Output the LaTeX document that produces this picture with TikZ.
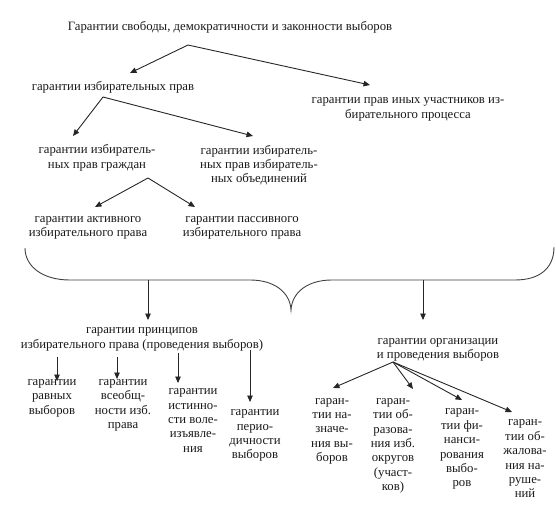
\documentclass[tikz,border=0pt]{standalone}
\usepackage{fontspec}
\setmainfont{Liberation Serif}
\usetikzlibrary{arrows.meta}
\tikzset{
  lbl/.style={inner sep=0pt, align=center, text=black!90,
    font=\fontsize{12.8}{14.4}\selectfont,
    execute at begin node=\strut, execute at end node=\strut},
  arr/.style={draw=black!85, line width=0.9pt, -{Triangle[length=6.5pt,width=5.5pt]}},
  brace/.style={draw=black!75, line width=0.9pt}
}
\begin{document}
\begin{tikzpicture}[x=1bp,y=-1bp]
\useasboundingbox (0,0) rectangle (556,510);
% nodes
\node[lbl] (title) at (230,28) {Гарантии свободы, демократичности и законности выборов};
\node[lbl] (ia) at (113,88) {гарантии избирательных прав};
\node[lbl] (io) at (408,110) {гарантии прав иных участников из-\\бирательного процесса};
\node[lbl] (ig) at (97,158.5) {гарантии избиратель-\\ных прав граждан};
\node[lbl] (iob) at (259,166) {гарантии избиратель-\\ных прав избиратель-\\ных объединений};
\node[lbl] (act) at (88,228.5) {гарантии активного\\избирательного права};
\node[lbl] (pas) at (242,228.5) {гарантии пассивного\\избирательного права};
\node[lbl] (pr) at (142,340) {гарантии принципов\\избирательного права (проведения выборов)};
\node[lbl] (org) at (438,350.5) {гарантии организации\\и проведения выборов};
\node[lbl] (b1) at (52,399) {гарантии\\равных\\выборов};
\node[lbl] (b2) at (123,406) {гарантии\\всеобщ-\\ности изб.\\права};
\node[lbl] (b3) at (193,422.5) {гарантии\\истинно-\\сти воле-\\изъявле-\\ния};
\node[lbl] (b4) at (255,436.5) {гарантии\\перио-\\дичности\\выборов};
\node[lbl] (r1) at (332,432) {гаран-\\тии на-\\значе-\\ния вы-\\боров};
\node[lbl] (r2) at (393,446.5) {гаран-\\тии об-\\разова-\\ния изб.\\округов\\(участ-\\ков)};
\node[lbl] (r3) at (462,450) {гаран-\\тии фи-\\нанси-\\рования\\выбо-\\ров};
\node[lbl] (r4) at (525,461) {гаран-\\тии об-\\жалова-\\ния на-\\руше-\\ний};
% connector points
\coordinate (t0) at (188,45);
\coordinate (ia-in) at (130,73);
\coordinate (io-in) at (370,85);
\coordinate (ia0) at (103,97);
\coordinate (ig-in) at (73,136);
\coordinate (iob-in) at (253,136);
\coordinate (ig0) at (148,178);
\coordinate (act-in) at (95,207);
\coordinate (pas-in) at (195,207);
\coordinate (bl) at (148,280);
\coordinate (br) at (423,280);
\coordinate (pr-in) at (148,320);
\coordinate (org-in) at (423,320);
\coordinate (p1) at (57,357);
\coordinate (b1-in) at (57,381);
\coordinate (p2) at (117,357);
\coordinate (b2-in) at (117,379);
\coordinate (p3) at (178,353);
\coordinate (b3-in) at (178,383);
\coordinate (p4) at (250,350);
\coordinate (b4-in) at (250,402);
\coordinate (o0) at (393,362);
\coordinate (r1-in) at (333,388);
\coordinate (r2-in) at (413,389);
\coordinate (r3-in) at (462,400);
\coordinate (r4-in) at (512,412);
% connectors
\draw[arr] (t0) -- (ia-in);
\draw[arr] (t0) -- (io-in);
\draw[arr] (ia0) -- (ig-in);
\draw[arr] (ia0) -- (iob-in);
\draw[arr] (ig0) -- (act-in);
\draw[arr] (ig0) -- (pas-in);
\draw[arr] (bl) -- (pr-in);
\draw[arr] (br) -- (org-in);
\draw[arr] (p1) -- (b1-in);
\draw[arr] (p2) -- (b2-in);
\draw[arr] (p3) -- (b3-in);
\draw[arr] (p4) -- (b4-in);
\draw[arr] (o0) -- (r1-in);
\draw[arr] (o0) -- (r2-in);
\draw[arr] (o0) -- (r3-in);
\draw[arr] (o0) -- (r4-in);
% brace
\draw[brace] (25,248) .. controls (25,266) and (42,280) .. (70,280) -- (250,280)
  .. controls (274,280) and (290,292) .. (291,310)
  .. controls (292,292) and (308,280) .. (332,280) -- (515,280)
  .. controls (540,280) and (554,268) .. (554,247);
\end{tikzpicture}
\end{document}
